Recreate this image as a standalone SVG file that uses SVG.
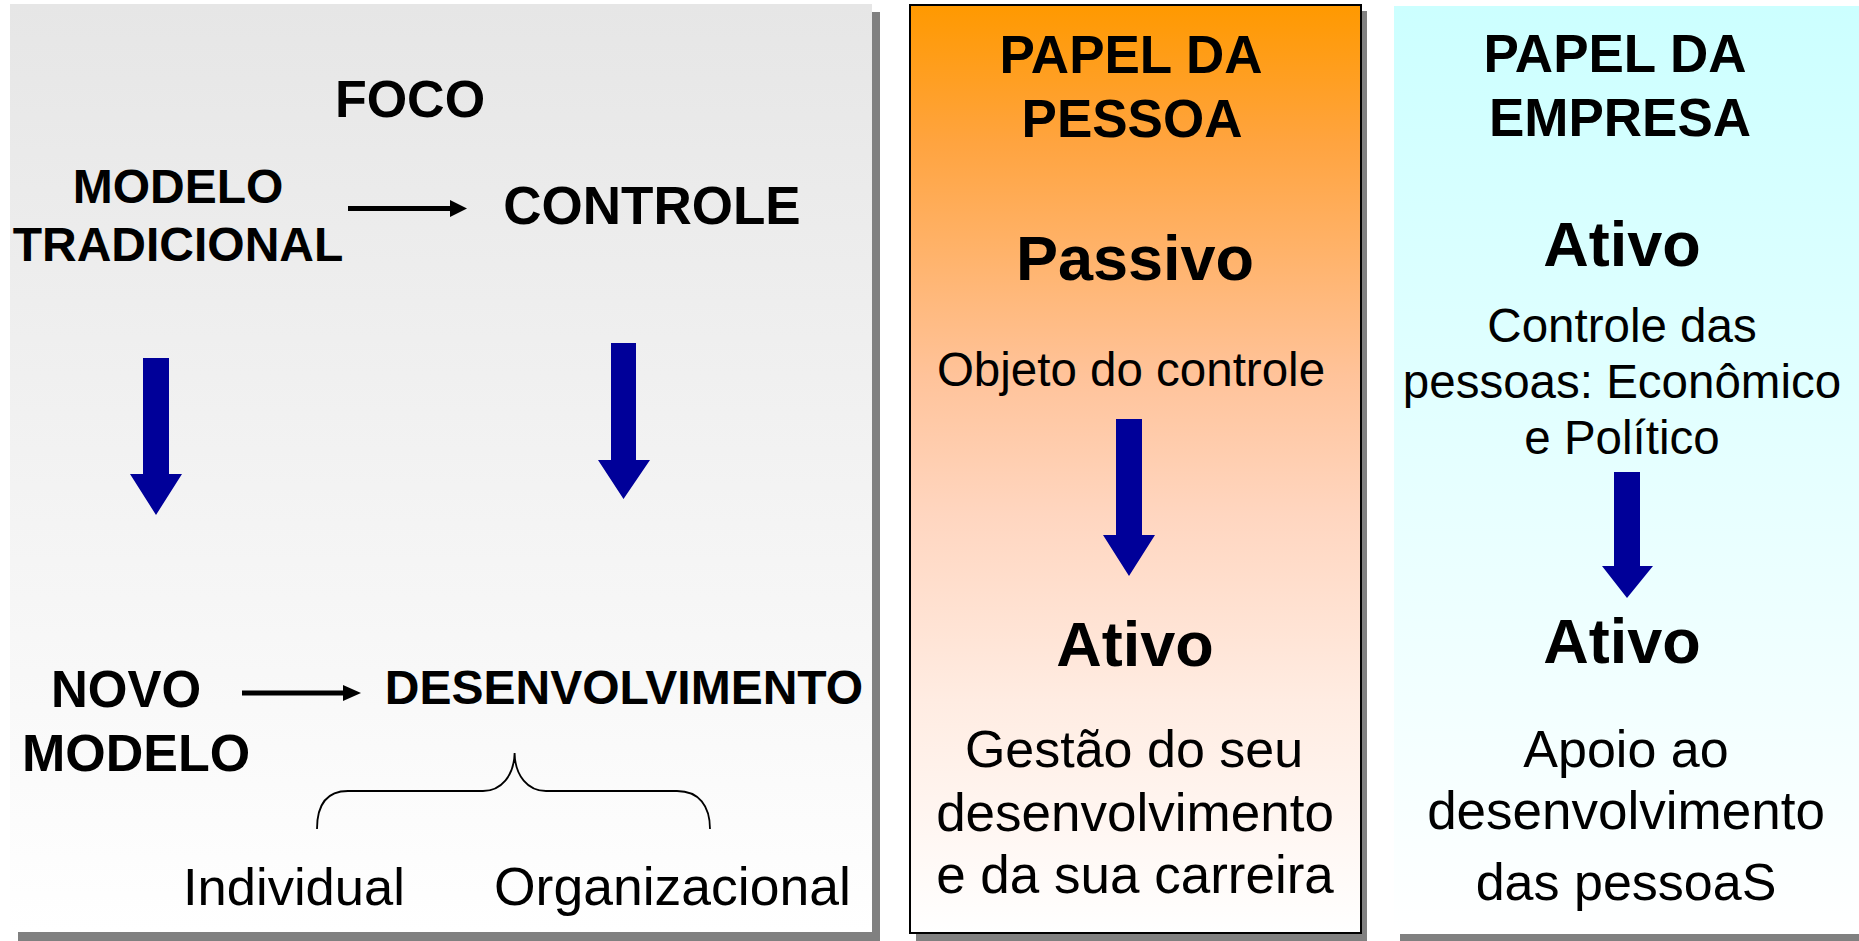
<svg xmlns="http://www.w3.org/2000/svg" width="1859" height="941" viewBox="0 0 1859 941">
<defs>
<linearGradient id="gGray" x1="0" y1="0" x2="0" y2="1">
<stop offset="0" stop-color="#E6E6E6"/><stop offset="1" stop-color="#FFFFFF"/>
</linearGradient>
<linearGradient id="gOrange" x1="0" y1="0" x2="0" y2="1">
<stop offset="0" stop-color="#FF9900"/><stop offset="0.15" stop-color="#FFA440"/><stop offset="0.4" stop-color="#FFC39A"/><stop offset="0.55" stop-color="#FFD6C0"/><stop offset="0.75" stop-color="#FFECE2"/><stop offset="1" stop-color="#FFFFFF"/>
</linearGradient>
<linearGradient id="gCyan" x1="0" y1="0" x2="0" y2="1">
<stop offset="0" stop-color="#CCFFFF"/><stop offset="1" stop-color="#FFFFFF"/>
</linearGradient>
</defs>
<style>
text{font-family:"Liberation Sans",Arial,sans-serif;fill:#000;text-anchor:middle}
.b{font-weight:bold}
.shadow{fill:#808080}
.blk{stroke:#000;stroke-width:5;fill:none}
.head{fill:#000}
.blue{fill:#000099}
.brace{stroke:#000;stroke-width:1.8;fill:none}
</style>
<rect x="0" y="0" width="1859" height="941" fill="#FFFFFF"/>

<g id="panel-foco">
<rect class="shadow" x="18" y="12" width="862" height="929"/>
<rect x="10" y="4" width="862" height="928" fill="url(#gGray)"/>
</g>
<g id="panel-pessoa">
<rect class="shadow" x="916" y="11" width="451" height="930"/>
<rect x="910" y="5" width="451" height="928" fill="url(#gOrange)" stroke="#000" stroke-width="2"/>
</g>
<g id="panel-empresa">
<rect class="shadow" x="1400" y="12" width="459" height="929"/>
<rect x="1394" y="6" width="465" height="928" fill="url(#gCyan)"/>
</g>

<g id="n-foco"><text class="b" x="410" y="117" font-size="52">FOCO</text></g>
<g id="n-modelo-tradicional"><text class="b" x="178" y="203" font-size="48">MODELO</text><text class="b" x="178" y="261" font-size="48">TRADICIONAL</text></g>
<g id="n-controle"><text class="b" x="652" y="224" font-size="53">CONTROLE</text></g>
<g id="n-novo-modelo"><text class="b" x="126" y="707" font-size="51">NOVO</text><text class="b" x="136" y="771" font-size="52">MODELO</text></g>
<g id="n-desenvolvimento"><text class="b" x="624" y="704" font-size="48">DESENVOLVIMENTO</text></g>
<g id="n-individual"><text x="183" y="905" font-size="52.5" style="text-anchor:start">Individual</text></g>
<g id="n-organizacional"><text x="494" y="905" font-size="53.5" style="text-anchor:start">Organizacional</text></g>

<g id="n-pessoa">
<text class="b" x="1131" y="73" font-size="53">PAPEL DA</text>
<text class="b" x="1132" y="137" font-size="53">PESSOA</text>
<text class="b" x="1135" y="280" font-size="63">Passivo</text>
<text x="1131" y="386" font-size="47.5">Objeto do controle</text>
<text class="b" x="1135" y="666" font-size="63">Ativo</text>
<text x="1134" y="767" font-size="52">Gestão do seu</text>
<text x="1135" y="831" font-size="53">desenvolvimento</text>
<text x="1135" y="893" font-size="53">e da sua carreira</text>
</g>

<g id="n-empresa">
<text class="b" x="1615" y="72" font-size="53">PAPEL DA</text>
<text class="b" x="1620" y="136" font-size="53">EMPRESA</text>
<text class="b" x="1622" y="266" font-size="63">Ativo</text>
<text x="1622" y="342" font-size="47.5">Controle das</text>
<text x="1622" y="398" font-size="47.5">pessoas: Econômico</text>
<text x="1622" y="454" font-size="47.5">e Político</text>
<text class="b" x="1622" y="663" font-size="63">Ativo</text>
<text x="1626" y="767" font-size="52">Apoio ao</text>
<text x="1626" y="829" font-size="53">desenvolvimento</text>
<text x="1626" y="900" font-size="52">das pessoaS</text>
</g>

<g id="connectors">
<line class="blk" x1="348" y1="208.5" x2="452" y2="208.5"/>
<polygon class="head" points="450,200 467,208.5 450,217"/>
<line class="blk" x1="242" y1="693" x2="345" y2="693"/>
<polygon class="head" points="343,685 361,693 343,701"/>
<polygon class="blue" points="143,358 169,358 169,474 182,474 156,515 130,474 143,474"/>
<polygon class="blue" points="611,343 636,343 636,460 650,460 623.5,499 598,460 611,460"/>
<polygon class="blue" points="1116,419 1142,419 1142,535 1155,535 1129,576 1103,535 1116,535"/>
<polygon class="blue" points="1614,472 1640,472 1640,566 1653,566 1627,598 1602,566 1614,566"/>
<path class="brace" d="M317,829 C317,806 326,791 348,791 L483,791 C501,791 514,776 514.6,753 C515,776 528,791 546,791 L677,791 C699,791 710,806 710,829"/>
</g>
</svg>
